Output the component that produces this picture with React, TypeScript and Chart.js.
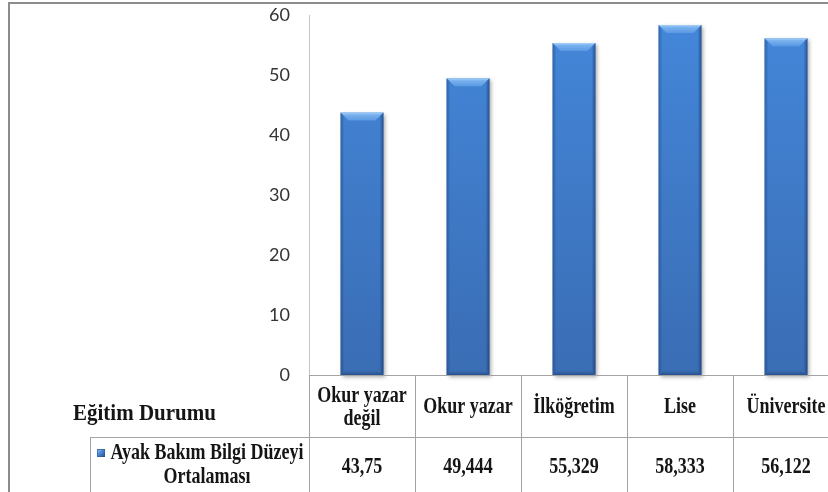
import React, { useEffect, useRef } from "react";
import { Chart, registerables } from "chart.js";

Chart.register(...registerables);

// Education level categories (lines of each header cell)
const categoryLines: string[][] = [
  ["Okur yazar", "değil"],
  ["Okur yazar"],
  ["İlköğretim"],
  ["Lise"],
  ["Üniversite"],
];
const categoryLabels = categoryLines.map((l) => l.join(" "));

// Mean foot-care knowledge score per education level
const values = [43.75, 49.444, 55.329, 58.333, 56.122];

const seriesLines = ["Ayak Bakım Bilgi Düzeyi", "Ortalaması"];
const seriesName = seriesLines.join(" ");
const axisTitle = "Eğitim Durumu";

const yMin = 0;
const yMax = 60;
const yStep = 10;

const W = 850;
const H = 492;

const formatTr = (v: number) => String(v).replace(".", ",");

const SERIF = '"Liberation Serif", "Times New Roman", serif';

function stretchedText(
  ctx: CanvasRenderingContext2D,
  text: string,
  x: number,
  baseline: number,
  font: string,
  align: CanvasTextAlign,
  sy: number
) {
  ctx.save();
  ctx.font = font;
  ctx.textAlign = align;
  ctx.textBaseline = "alphabetic";
  ctx.fillStyle = "#151515";
  ctx.translate(x, baseline);
  ctx.scale(1, sy);
  ctx.fillText(text, 0, 0);
  ctx.restore();
}

// Soft drop shadow behind bars, then bevel highlights on top of them
const bevelPlugin = {
  id: "barBevel",
  beforeDatasetsDraw(chart: any) {
    const ctx = chart.ctx as CanvasRenderingContext2D;
    ctx.save();
    ctx.shadowColor = "rgba(0,0,0,0.35)";
    ctx.shadowBlur = 4;
    ctx.shadowOffsetX = 2;
    ctx.shadowOffsetY = 2;
  },
  afterDatasetsDraw(chart: any) {
    const ctx = chart.ctx as CanvasRenderingContext2D;
    ctx.restore();
    const meta = chart.getDatasetMeta(0);
    meta.data.forEach((el: any) => {
      const { x, y, base, width } = el.getProps(["x", "y", "base", "width"], true);
      const L = x - width / 2;
      const R = x + width / 2;
      const T = Math.min(y, base);
      const B = Math.max(y, base);
      const b = 8;
      const s = 4;
      ctx.save();
      // top cap
      const gTop = ctx.createLinearGradient(0, T, 0, T + b);
      gTop.addColorStop(0, "#a9d2fa");
      gTop.addColorStop(0.3, "#78b1ee");
      gTop.addColorStop(1, "#5b98e2");
      ctx.fillStyle = gTop;
      ctx.beginPath();
      ctx.moveTo(L, T);
      ctx.lineTo(R, T);
      ctx.lineTo(R - b, T + b);
      ctx.lineTo(L + b, T + b);
      ctx.closePath();
      ctx.fill();
      // left edge
      const gL = ctx.createLinearGradient(L, 0, L + s, 0);
      gL.addColorStop(0, "rgba(25,60,115,0.45)");
      gL.addColorStop(1, "rgba(25,60,115,0)");
      ctx.fillStyle = gL;
      ctx.beginPath();
      ctx.moveTo(L, T);
      ctx.lineTo(L + s, T + s);
      ctx.lineTo(L + s, B - s);
      ctx.lineTo(L, B);
      ctx.closePath();
      ctx.fill();
      // right edge
      const gR = ctx.createLinearGradient(R - s, 0, R, 0);
      gR.addColorStop(0, "rgba(20,50,100,0)");
      gR.addColorStop(1, "rgba(20,50,100,0.6)");
      ctx.fillStyle = gR;
      ctx.beginPath();
      ctx.moveTo(R, T);
      ctx.lineTo(R, B);
      ctx.lineTo(R - s, B - s);
      ctx.lineTo(R - s, T + s);
      ctx.closePath();
      ctx.fill();
      // bottom edge
      const gB = ctx.createLinearGradient(0, B - s, 0, B);
      gB.addColorStop(0, "rgba(20,50,100,0)");
      gB.addColorStop(1, "rgba(20,50,100,0.5)");
      ctx.fillStyle = gB;
      ctx.beginPath();
      ctx.moveTo(L, B);
      ctx.lineTo(R, B);
      ctx.lineTo(R - s, B - s);
      ctx.lineTo(L + s, B - s);
      ctx.closePath();
      ctx.fill();
      ctx.restore();
    });
  },
};

// Data table under the plot, axis title and outer frame
const tablePlugin = {
  id: "dataTable",
  afterDraw(chart: any) {
    const ctx = chart.ctx as CanvasRenderingContext2D;
    const xs = chart.scales.x;
    const area = chart.chartArea;
    const n = categoryLabels.length;
    const cw = (xs.right - xs.left) / n;
    const top = Math.round(area.bottom);
    const row2 = top + 62;
    const legendLeft = 90;
    const fontCell = `bold 18px ${SERIF}`;
    const sy = 1.28;

    ctx.save();
    ctx.strokeStyle = "#a3a3a3";
    ctx.lineWidth = 1;
    ctx.beginPath();
    ctx.moveTo(xs.left, top + 0.5);
    ctx.lineTo(W, top + 0.5);
    ctx.moveTo(legendLeft, row2 + 0.5);
    ctx.lineTo(W, row2 + 0.5);
    for (let i = 0; i <= n; i++) {
      const px = Math.round(xs.left + i * cw) + 0.5;
      ctx.moveTo(px, top);
      ctx.lineTo(px, H);
    }
    ctx.moveTo(legendLeft + 0.5, row2);
    ctx.lineTo(legendLeft + 0.5, H);
    ctx.stroke();
    ctx.restore();

    // category header cells
    categoryLines.forEach((lines, i) => {
      const cx = xs.getPixelForValue(i);
      if (lines.length === 1) {
        stretchedText(ctx, lines[0], cx, top + 38, fontCell, "center", sy);
      } else {
        stretchedText(ctx, lines[0], cx, top + 27, fontCell, "center", sy);
        stretchedText(ctx, lines[1], cx, top + 50, fontCell, "center", sy);
      }
    });

    // value cells
    values.forEach((v, i) => {
      const cx = xs.getPixelForValue(i);
      stretchedText(ctx, formatTr(v), cx, row2 + 36, fontCell, "center", sy);
    });

    // legend key + series name
    ctx.save();
    const kx = 97;
    const ky = row2 + 12;
    const gk = ctx.createLinearGradient(kx, ky, kx + 8, ky + 8);
    gk.addColorStop(0, "#9cc9f5");
    gk.addColorStop(0.45, "#4a88d6");
    gk.addColorStop(1, "#264f8c");
    ctx.fillStyle = gk;
    ctx.fillRect(kx, ky, 8, 8);
    ctx.strokeStyle = "#2b5590";
    ctx.lineWidth = 0.6;
    ctx.strokeRect(kx + 0.3, ky + 0.3, 7.4, 7.4);
    ctx.restore();
    stretchedText(ctx, seriesLines[0], 207, row2 + 22, fontCell, "center", sy);
    stretchedText(ctx, seriesLines[1], 207, row2 + 46, fontCell, "center", sy);

    // category axis title
    stretchedText(ctx, axisTitle, 73, top + 45, `bold 21px ${SERIF}`, "left", 1.12);

    // outer chart frame
    ctx.save();
    ctx.strokeStyle = "#8c8c8c";
    ctx.lineWidth = 2;
    ctx.beginPath();
    ctx.moveTo(9, H);
    ctx.lineTo(9, 3);
    ctx.lineTo(W, 3);
    ctx.stroke();
    ctx.restore();
  },
};

export default function App() {
  const ref = useRef<HTMLCanvasElement | null>(null);

  useEffect(() => {
    if (!ref.current) return;
    const chart = new Chart(ref.current, {
      type: "bar",
      data: {
        labels: categoryLabels,
        datasets: [
          {
            label: seriesName,
            data: values,
            clip: false,
            backgroundColor: (c: any) => {
              const a = c.chart.chartArea;
              if (!a) return "#3f7fcf";
              const g = c.chart.ctx.createLinearGradient(0, a.top, 0, a.bottom);
              g.addColorStop(0, "#4487da");
              g.addColorStop(1, "#3a6db4");
              return g;
            },
            borderWidth: 0,
            barPercentage: 0.405,
            categoryPercentage: 1,
          } as any,
        ],
      },
      options: {
        responsive: false,
        animation: false,
        devicePixelRatio: 1,
        layout: { padding: { top: 15, bottom: H - 375, left: 0, right: W - 839 } },
        plugins: {
          legend: { display: false },
          tooltip: { enabled: false },
        },
        scales: {
          x: { display: false, offset: true },
          y: {
            min: yMin,
            max: yMax,
            afterFit: (s: any) => {
              s.width = 309;
              s.paddingTop = 0;
              s.paddingBottom = 0;
            },
            ticks: {
              stepSize: yStep,
              padding: 19,
              color: "#333333",
              font: { family: "Lato, sans-serif", size: 18 },
            },
            grid: { display: false, drawTicks: false },
            border: { display: true, color: "#c4c4c4", width: 1 },
          },
        },
      },
      plugins: [bevelPlugin, tablePlugin],
    });
    return () => chart.destroy();
  }, []);

  return (
    <div
      style={{
        position: "fixed",
        left: 0,
        top: 0,
        width: 828,
        height: 492,
        overflow: "hidden",
        background: "#ffffff",
      }}
    >
      <canvas ref={ref} width={W} height={H} style={{ display: "block", width: W, height: H }} />
    </div>
  );
}
